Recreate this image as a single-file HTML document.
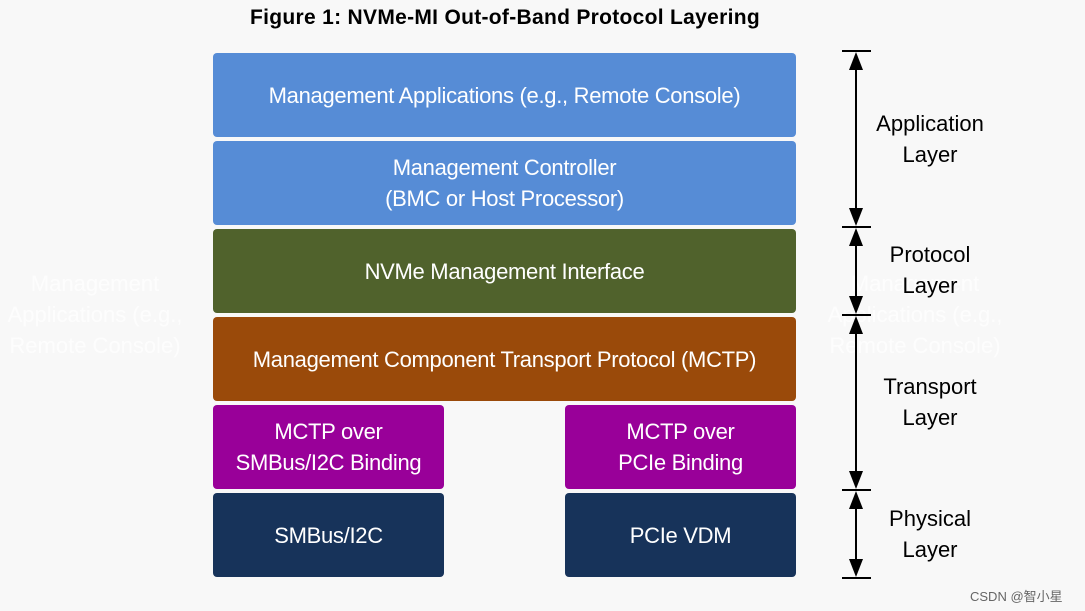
<!DOCTYPE html>
<html><head><style>
body{margin:0;width:1085px;height:611px;background:#f8f8f8;position:relative;overflow:hidden;font-family:"Liberation Sans",Arial,sans-serif}
.b{position:absolute;border-radius:4px;color:#fff;font-size:22px;display:flex;align-items:center;justify-content:center;text-align:center;line-height:31px;letter-spacing:-0.3px}
.t{position:absolute;color:#000;font-size:22px;text-align:center;line-height:31px;width:140px}
.g{position:absolute;color:#fff;opacity:.8;font-size:22px;text-align:center;line-height:31px;width:200px}
</style></head><body>
<div style="position:absolute;top:6px;left:0;width:1010px;text-align:center;font-weight:bold;font-size:21px;letter-spacing:0.3px">Figure 1: NVMe-MI Out-of-Band Protocol Layering</div>
<div class="g" style="left:-5px;top:268px">Management<br>Applications (e.g.,<br>Remote Console)</div>
<div class="g" style="left:815px;top:268px">Management<br>Applications (e.g.,<br>Remote Console)</div>
<div class="b" style="left:213px;top:53px;width:583px;height:84px;background:#568cd6">Management Applications (e.g., Remote Console)</div>
<div class="b" style="left:213px;top:141px;width:583px;height:84px;background:#568cd6">Management Controller<br>(BMC or Host Processor)</div>
<div class="b" style="left:213px;top:229px;width:583px;height:84px;background:#50622c">NVMe Management Interface</div>
<div class="b" style="left:213px;top:317px;width:583px;height:84px;background:#9a4a0a">Management Component Transport Protocol (MCTP)</div>
<div class="b" style="left:213px;top:405px;width:231px;height:84px;background:#990099">MCTP over<br>SMBus/I2C Binding</div>
<div class="b" style="left:565px;top:405px;width:231px;height:84px;background:#990099">MCTP over<br>PCIe Binding</div>
<div class="b" style="left:213px;top:493px;width:231px;height:84px;background:#17335a">SMBus/I2C</div>
<div class="b" style="left:565px;top:493px;width:231px;height:84px;background:#17335a">PCIe VDM</div>
<svg style="position:absolute;left:0;top:0" width="1085" height="611">
<g stroke="#000" stroke-width="2">
<line x1="842" y1="51" x2="871" y2="51"/><line x1="842" y1="227" x2="871" y2="227"/><line x1="842" y1="315" x2="871" y2="315"/><line x1="842" y1="490" x2="871" y2="490"/><line x1="842" y1="578" x2="871" y2="578"/>
<line x1="856" y1="60" x2="856" y2="218"/><line x1="856" y1="236" x2="856" y2="306"/><line x1="856" y1="324" x2="856" y2="481"/><line x1="856" y1="499" x2="856" y2="569"/>
</g>
<g fill="#000">
<polygon points="856,52 849,70 863,70"/><polygon points="856,226 849,208 863,208"/>
<polygon points="856,228 849,246 863,246"/><polygon points="856,314 849,296 863,296"/>
<polygon points="856,316 849,334 863,334"/><polygon points="856,489 849,471 863,471"/>
<polygon points="856,491 849,509 863,509"/><polygon points="856,577 849,559 863,559"/>
</g></svg>
<div class="t" style="left:860px;top:108px">Application<br>Layer</div>
<div class="t" style="left:860px;top:239px">Protocol<br>Layer</div>
<div class="t" style="left:860px;top:371px">Transport<br>Layer</div>
<div class="t" style="left:860px;top:503px">Physical<br>Layer</div>
<div style="position:absolute;left:970px;top:586px;font-size:13px;color:#666;font-family:'Liberation Sans','Noto Sans CJK SC',sans-serif">CSDN @智小星</div>
</body></html>
